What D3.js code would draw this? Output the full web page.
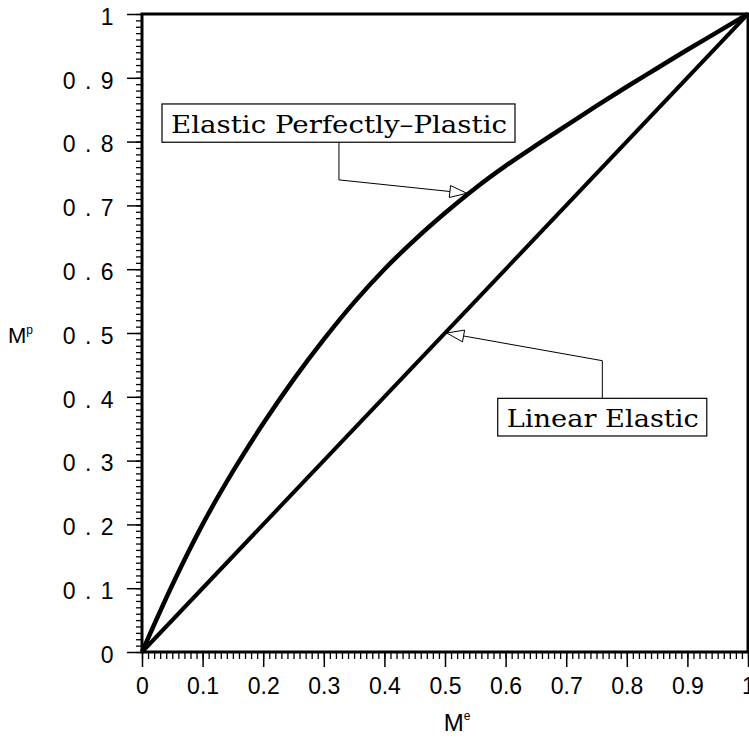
<!DOCTYPE html>
<html>
<head>
<meta charset="utf-8">
<script src="https://cdnjs.cloudflare.com/ajax/libs/d3/7.8.5/d3.min.js"></script>
<style>
  body { margin: 0; background: #fff; }
  svg { display: block; }
</style>
</head>
<body>
<script>
// tick values and labels
var xTicks = [0, 0.1, 0.2, 0.3, 0.4, 0.5, 0.6, 0.7, 0.8, 0.9, 1];
var xTickLabels = ["0", "0.1", "0.2", "0.3", "0.4", "0.5", "0.6", "0.7", "0.8", "0.9", "1"];
var yTicks = [0, 0.1, 0.2, 0.3, 0.4, 0.5, 0.6, 0.7, 0.8, 0.9, 1];
var yTickLabels = ["0", "0 . 1", "0 . 2", "0 . 3", "0 . 4", "0 . 5", "0 . 6", "0 . 7", "0 . 8", "0 . 9", "1"];

// elastic perfectly-plastic curve
var epX = [0, 0.05, 0.1, 0.15, 0.2, 0.25, 0.3, 0.35, 0.4, 0.45, 0.5, 0.55, 0.6, 0.65, 0.7, 0.75, 0.8, 0.85, 0.9, 0.95, 1];
var epY = [0, 0.105, 0.2, 0.283, 0.358, 0.427, 0.49, 0.548, 0.6, 0.646, 0.688, 0.727, 0.762, 0.794, 0.825, 0.856, 0.886, 0.915, 0.944, 0.972, 1];

// linear elastic line
var linX = [0, 1];
var linY = [0, 1];

// annotation labels, in data units: box corners, leader bend and arrow tip
var labelTexts = ["Elastic Perfectly\u2013Plastic", "Linear Elastic"];
var labelBoxX = [[0.033, 0.6155], [0.587, 0.932]];
var labelBoxY = [[0.859, 0.799], [0.3976, 0.3386]];
var leaderBendX = [0.325, 0.7596];
var leaderBendY = [0.740, 0.4566];
var arrowTipX = [0.536, 0.503];
var arrowTipY = [0.719, 0.500];

window.onload = function() {
  main();
};

function main() {
  var w = 749;
  var h = 739;
  var margin = {top: 14, right: 1, bottom: 87, left: 142};

  var svg = d3.select("body")
              .append("svg")
              .attr("width", w)
              .attr("height", h);

  var xScale = d3.scaleLinear()
                 .domain([0, 1])
                 .range([margin.left, w - margin.right]);
  var yScale = d3.scaleLinear()
                 .domain([0, 1])
                 .range([h - margin.bottom, margin.top]);

  var sansFont = "'Liberation Sans', Arial, sans-serif";
  var serifFont = "'DejaVu Serif', 'Liberation Serif', serif";

  // minor ticks every 0.01
  var minor = d3.range(0, 101).map(function(d) { return d / 100; });

  svg.append("g")
     .attr("transform", "translate(" + margin.left + ",0)")
     .call(d3.axisLeft(yScale).tickValues(minor).tickSize(6).tickFormat(""))
     .call(function(g) { g.select(".domain").remove(); })
     .selectAll("line").attr("stroke", "#000").attr("stroke-width", 1.3);

  svg.append("g")
     .attr("transform", "translate(0," + yScale(0) + ")")
     .call(d3.axisBottom(xScale).tickValues(minor).tickSize(7).tickFormat(""))
     .call(function(g) { g.select(".domain").remove(); })
     .selectAll("line").attr("stroke", "#000").attr("stroke-width", 1.3);

  // major ticks with labels
  var yAxis = d3.axisLeft(yScale)
                .tickValues(yTicks)
                .tickSize(15)
                .tickPadding(12)
                .tickFormat(function(d, i) { return yTickLabels[i]; });
  var gy = svg.append("g")
              .attr("transform", "translate(" + margin.left + ",0)")
              .call(yAxis);
  gy.select(".domain").remove();
  gy.selectAll("line").attr("stroke", "#000").attr("stroke-width", 1.5);
  gy.selectAll("text")
    .attr("font-family", sansFont)
    .attr("font-size", 23)
    .attr("letter-spacing", "1.5px")
    .attr("fill", "#000")
    .attr("dy", "0.45em")
    .style("white-space", "pre");

  var xAxis = d3.axisBottom(xScale)
                .tickValues(xTicks)
                .tickSize(15)
                .tickPadding(11)
                .tickFormat(function(d, i) { return xTickLabels[i]; });
  var gx = svg.append("g")
              .attr("transform", "translate(0," + yScale(0) + ")")
              .call(xAxis);
  gx.select(".domain").remove();
  gx.selectAll("line").attr("stroke", "#000").attr("stroke-width", 1.5);
  gx.selectAll("text")
    .attr("font-family", sansFont)
    .attr("font-size", 23)
    .attr("fill", "#000");

  // frame round the plot
  svg.append("rect")
     .attr("x", xScale(0))
     .attr("y", yScale(1))
     .attr("width", xScale(1) - xScale(0))
     .attr("height", yScale(0) - yScale(1))
     .attr("fill", "none")
     .attr("stroke", "#000")
     .attr("stroke-width", 3);

  // the curves
  var line = d3.line()
               .x(function(d) { return xScale(d[0]); })
               .y(function(d) { return yScale(d[1]); });

  svg.append("path")
     .datum(linX.map(function(x, i) { return [x, linY[i]]; }))
     .attr("d", line)
     .attr("fill", "none")
     .attr("stroke", "#000")
     .attr("stroke-width", 4);

  svg.append("path")
     .datum(epX.map(function(x, i) { return [x, epY[i]]; }))
     .attr("d", line.curve(d3.curveMonotoneX))
     .attr("fill", "none")
     .attr("stroke", "#000")
     .attr("stroke-width", 4.5);

  // labels with leader lines and open arrow heads
  for (let i = 0; i < labelTexts.length; i++) {
    let x0 = xScale(labelBoxX[i][0]), x1 = xScale(labelBoxX[i][1]);
    let y0 = yScale(labelBoxY[i][0]), y1 = yScale(labelBoxY[i][1]);
    let bx = xScale(leaderBendX[i]), by = yScale(leaderBendY[i]);
    let tx = xScale(arrowTipX[i]), ty = yScale(arrowTipY[i]);

    // box edge where the leader starts (bottom for the upper box, top for the lower)
    let startY = by > y1 ? y1 : y0;

    let dx = tx - bx, dy = ty - by;
    let len = Math.sqrt(dx * dx + dy * dy);
    let ux = dx / len, uy = dy / len;
    let headLen = 17, headW = 6;
    let baseX = tx - ux * headLen, baseY = ty - uy * headLen;

    svg.append("path")
       .attr("d", "M" + bx + "," + startY + "L" + bx + "," + by + "L" + baseX + "," + baseY)
       .attr("fill", "none")
       .attr("stroke", "#000")
       .attr("stroke-width", 1);

    svg.append("path")
       .attr("d", "M" + tx + "," + ty +
                  "L" + (baseX - uy * headW) + "," + (baseY + ux * headW) +
                  "L" + (baseX + uy * headW) + "," + (baseY - ux * headW) + "Z")
       .attr("fill", "#fff")
       .attr("stroke", "#000")
       .attr("stroke-width", 1);

    svg.append("rect")
       .attr("x", x0)
       .attr("y", y0)
       .attr("width", x1 - x0)
       .attr("height", y1 - y0)
       .attr("fill", "#fff")
       .attr("stroke", "#000")
       .attr("stroke-width", 1.2);

    svg.append("text")
       .attr("x", x0 + 9)
       .attr("y", y1 - 9)
       .attr("textLength", x1 - x0 - 17)
       .attr("lengthAdjust", "spacingAndGlyphs")
       .attr("font-family", serifFont)
       .attr("font-size", 25)
       .attr("fill", "#000")
       .text(labelTexts[i]);
  }

  // axis titles
  var xTitle = svg.append("text")
                  .attr("x", xScale(0.52))
                  .attr("y", 731)
                  .attr("text-anchor", "middle")
                  .attr("font-family", sansFont)
                  .attr("font-size", 24)
                  .attr("fill", "#000");
  xTitle.append("tspan").text("M");
  xTitle.append("tspan").attr("font-size", 12).attr("dy", -11).text("e");

  var yTitle = svg.append("text")
                  .attr("x", 8)
                  .attr("y", 343)
                  .attr("font-family", sansFont)
                  .attr("font-size", 22)
                  .attr("fill", "#000");
  yTitle.append("tspan").text("M");
  yTitle.append("tspan").attr("font-size", 12).attr("dy", -9).text("p");
}
</script>
</body>
</html>
